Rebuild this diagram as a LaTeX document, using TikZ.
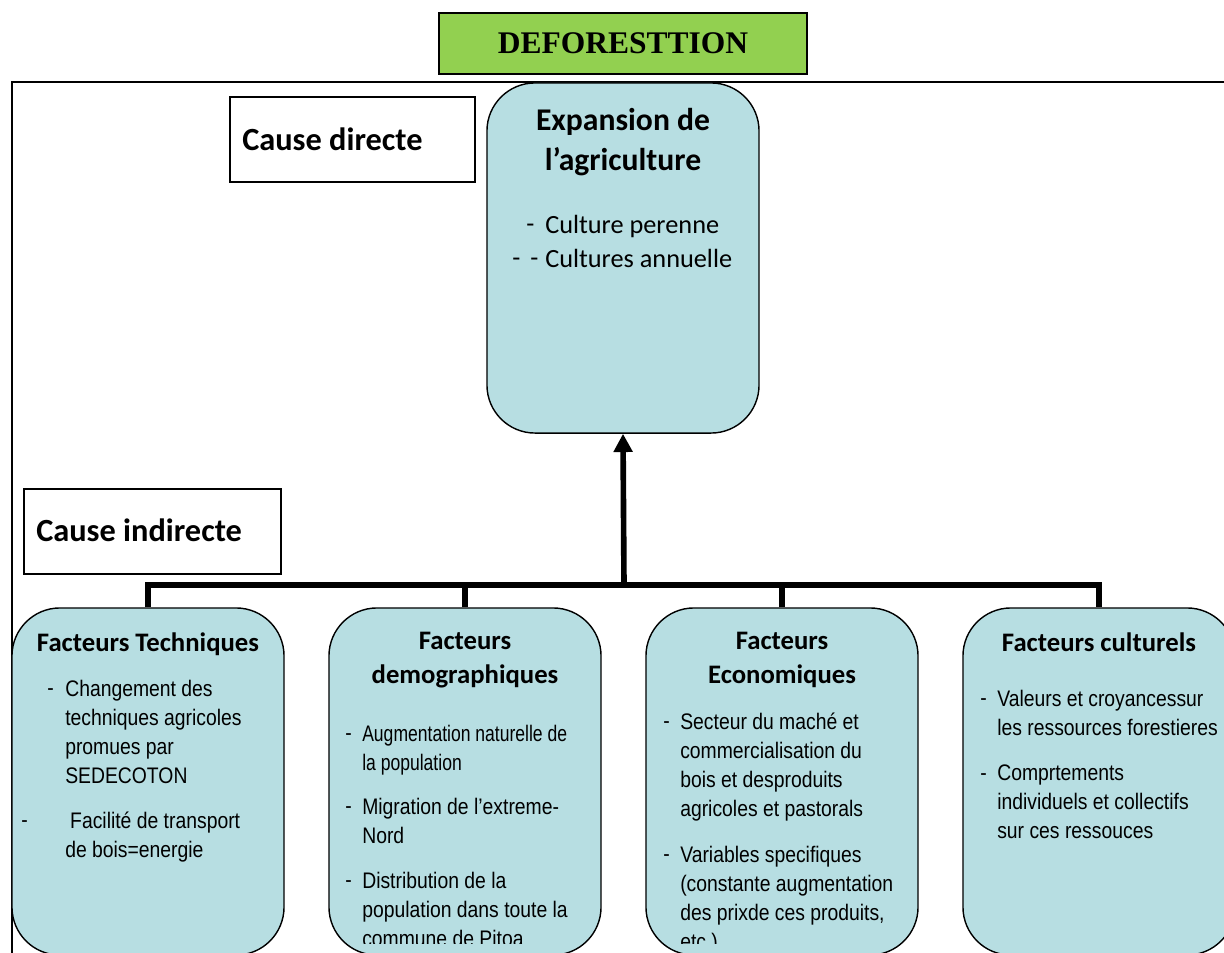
\documentclass[tikz,border=0pt]{standalone}
\usepackage{fontspec}
\setmainfont{Carlito}
\newfontfamily\policecorps[FakeStretch=0.86]{Liberation Sans}
\newfontfamily\policeetroite[FakeStretch=0.78]{Liberation Sans}
\newfontfamily\policetitre{Liberation Serif}
\usetikzlibrary{arrows.meta}
\definecolor{vertitre}{RGB}{146,208,80}
\definecolor{bleucase}{RGB}{183,222,226}
\begin{document}
\begin{tikzpicture}[x=0.025cm, y=-0.025cm,
    titre/.style={draw, line width=0.8pt, fill=vertitre, minimum width=9.2cm, minimum height=1.525cm,
      font=\policetitre\bfseries\fontsize{22.4}{27}\selectfont},
    etiquette/.style={draw, line width=1pt, minimum height=2.125cm},
    libelle/.style={anchor=west, inner sep=0pt, font=\bfseries\fontsize{23}{27}\selectfont},
    case/.style={draw, line width=1pt, fill=bleucase, rounded corners=1.2cm, minimum width=6.8cm},
    entete/.style={anchor=north, inner sep=0pt, align=center, font=\bfseries\fontsize{19}{24.2}\selectfont},
    puce/.style={anchor=north west, inner sep=0pt, align=left, font=\policecorps\fontsize{16}{20.6}\selectfont},
    lien/.style={line width=4pt}]
  \useasboundingbox (0,0) rectangle (1224,953);
  \draw[line width=1pt] (12,1000) -- (12,82) -- (1240,82);
  \node[titre] (deforestation) at (623,43.5) {DEFORESTTION};
  \node[etiquette, minimum width=6.125cm] (directe) at (352.5,139.5) {};
  \node[libelle] (directe-texte) at (242,139.5) {Cause directe};
  \node[etiquette, minimum width=6.425cm] (indirecte) at (152.5,531.5) {};
  \node[libelle] (indirecte-texte) at (36,530.5) {Cause indirecte};
  \node[case, minimum height=8.75cm] (expansion) at (623,258) {};
  \node[case, minimum height=8.675cm] (tech) at (148,781.5) {};
  \node[case, minimum height=8.675cm] (demo) at (465,781.5) {};
  \node[case, minimum height=8.675cm] (eco) at (782,781.5) {};
  \node[case, minimum height=8.675cm] (cult) at (1099,781.5) {};
  % cause directe
  \node[entete, font=\bfseries\fontsize{22.5}{28.45}\selectfont] (expansion-titre) at (623,108) {Expansion de\\l’agriculture};
  \node[puce, font=\fontsize{18.7}{24.2}\selectfont] (expansion-t1) at (526,215) {\vphantom{C}-};
  \node[puce, font=\fontsize{18.7}{24.2}\selectfont] (expansion-t2) at (512,249) {\vphantom{C}-\hspace{7.1pt}-};
  \node[puce, font=\fontsize{18.7}{24.2}\selectfont] (expansion-liste) at (545,215) {Culture perenne\\Cultures annuelle};
  % causes indirectes
  \node[entete] (tech-titre) at (148,632) {Facteurs Techniques};
  \node[entete] (demo-titre) at (465,632) {Facteurs\\demographiques};
  \node[entete] (eco-titre) at (782,632) {Facteurs\\Economiques};
  \node[entete] (cult-titre) at (1099,632) {Facteurs culturels};
  \begin{scope}
    \clip (0,0) rectangle (1224,943);
    \node[puce] (tech-t1) at (47,680) {\vphantom{C}-};
    \node[puce] (tech-a) at (65,680) {Changement des\\techniques agricoles\\promues par\\SEDECOTON};
    \node[puce] (tech-t2) at (21,812) {\vphantom{C}-};
    \node[puce] (tech-b) at (65,812) {\hspace{3.5pt}Facilité de transport\\de bois=energie};
    \node[puce] (demo-t1) at (345,725) {\vphantom{C}-};
    \node[puce, font=\policeetroite\fontsize{16}{20.6}\selectfont] (demo-a) at (362,725) {Augmentation naturelle de\\la population};
    \node[puce] (demo-t2) at (345,798) {\vphantom{C}-};
    \node[puce] (demo-b) at (362,798) {Migration de l’extreme-\\Nord};
    \node[puce] (demo-t3) at (345,872) {\vphantom{C}-};
    \node[puce] (demo-c) at (362,872) {Distribution de la\\population dans toute la\\commune de Pitoa};
    \node[puce] (eco-t1) at (663,713) {\vphantom{C}-};
    \node[puce] (eco-a) at (680,713) {Secteur du maché et\\commercialisation du\\bois et desproduits\\agricoles et pastorals};
    \node[puce] (eco-t2) at (663,846) {\vphantom{C}-};
    \node[puce] (eco-b) at (680,846) {Variables specifiques\\(constante augmentation\\des prixde ces produits,\\etc.)};
    \node[puce] (cult-t1) at (980,690) {\vphantom{C}-};
    \node[puce] (cult-a) at (997,690) {Valeurs et croyancessur\\les ressources forestieres};
    \node[puce] (cult-t2) at (980,765) {\vphantom{C}-};
    \node[puce] (cult-b) at (997,765) {Comprtements\\individuels et collectifs\\sur ces ressouces};
  \end{scope}
  \coordinate (jonction) at (624,585);
  \draw[lien] (tech.north) |- (jonction) -| (cult.north);
  \draw[lien] (demo.north) -- (demo.north |- jonction);
  \draw[lien] (eco.north) -- (eco.north |- jonction);
  \draw[lien, -{Triangle[length=13pt, width=13pt]}] (jonction) -- (expansion.south);
\end{tikzpicture}
\end{document}
